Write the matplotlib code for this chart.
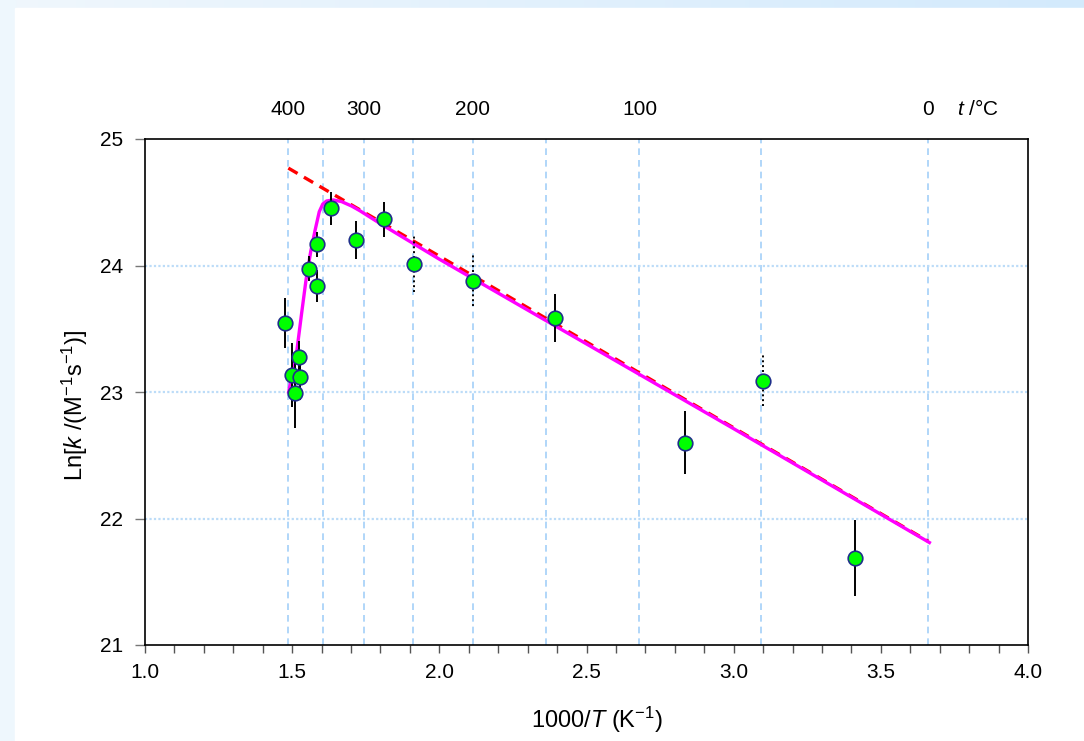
import numpy as np
import matplotlib.pyplot as plt
from matplotlib.colors import LinearSegmentedColormap
from matplotlib.patches import Rectangle
from matplotlib.ticker import MultipleLocator
from matplotlib.transforms import blended_transform_factory

plt.rcParams["font.family"] = ["Liberation Sans", "DejaVu Sans"]
plt.rcParams["mathtext.fontset"] = "custom"
plt.rcParams["mathtext.rm"] = "Liberation Sans"
plt.rcParams["mathtext.it"] = "Liberation Sans:italic"
plt.rcParams["font.size"] = 15

# measured rate constants, ln k vs 1000/T
inv_t = [1.476, 1.499, 1.524, 1.525, 1.510, 1.558, 1.584, 1.584, 1.633,
         1.718, 1.811, 1.915, 2.116, 2.393, 2.836, 3.099, 3.411]
ln_k = [23.545, 23.134, 23.275, 23.119, 22.995, 23.975, 24.168, 23.838, 24.452,
        24.20, 24.365, 24.01, 23.88, 23.583, 22.60, 23.09, 21.69]
ln_k_err = [0.20, 0.25, 0.13, 0.18, 0.28, 0.10, 0.10, 0.13, 0.13,
            0.15, 0.14, 0.22, 0.20, 0.19, 0.25, 0.20, 0.30]
dotted_err = [False, False, False, False, False, False, False, False, False,
              False, False, True, True, False, False, True, False]

# Arrhenius extrapolation (red dashed)
arr_x = [1.487, 3.661]
arr_y = [24.77, 21.82]

# full model curve (magenta)
fit_x = [1.488, 1.515, 1.532, 1.547, 1.563, 1.578, 1.592, 1.604, 1.617,
         1.640, 1.668, 1.702, 1.730, 1.80, 2.0, 2.5, 3.0, 3.665]
fit_y = [23.00, 23.31, 23.62, 23.885, 24.11, 24.28, 24.425, 24.486, 24.51,
         24.518, 24.505, 24.47, 24.433, 24.33, 24.05, 23.38, 22.71, 21.81]

# temperature grid in °C, only some of them labelled on top
grid_temps = [400, 350, 300, 250, 200, 150, 100, 50, 0]
top_temps = [400, 300, 200, 100, 0]

fig = plt.figure(figsize=(10.84, 7.41), dpi=100)
fig.patch.set_facecolor("#eef7fd")

# slide-like frame: gradient strip on top, pale strip on the left
bg = fig.add_axes([0, 0, 1, 1], zorder=-10)
bg.set_axis_off()
grad = np.linspace(0, 1, 256).reshape(1, -1)
bg.imshow(grad, extent=[0, 1, 0, 1], aspect="auto",
          cmap=LinearSegmentedColormap.from_list("bgc", ["#f0f7fd", "#d3eafc"]),
          transform=bg.transAxes)
bg.add_patch(Rectangle((0, 0), 15 / 1084, 1, transform=bg.transAxes, color="#eef7fd", zorder=1))
bg.add_patch(Rectangle((15 / 1084, 0), 1, 733 / 741, transform=bg.transAxes, color="white", zorder=2))
bg.set_xlim(0, 1)
bg.set_ylim(0, 1)

ax = fig.add_axes([145 / 1084, 1 - 645 / 741, 883 / 1084, 506 / 741])
ax.set_facecolor("white")
ax.set_xlim(1.0, 4.0)
ax.set_ylim(21, 25)

grid_x = [1000.0 / (t + 273.15) for t in grid_temps]
for gx in grid_x:
    ax.axvline(gx, color="#a3d0f8", lw=1.2, ls=(0, (4, 3)), zorder=1)
for gy in [22, 23, 24]:
    ax.axhline(gy, color="#bcdcf8", lw=1.6, ls=(0, (1, 1)), zorder=1)

ax.plot(arr_x, arr_y, color="#ff0000", lw=2.4, ls=(0, (3.2, 2.2)), zorder=3)
ax.plot(fit_x, fit_y, color="#ff00ff", lw=2.4, zorder=4)

for x, y, e, dot in zip(inv_t, ln_k, ln_k_err, dotted_err):
    eb = ax.errorbar(x, y, yerr=e, fmt="none", ecolor="black", elinewidth=1.4, capsize=0, zorder=5)
    if dot:
        eb[2][0].set_linestyle((0, (1, 1.5)))
ax.plot(inv_t, ln_k, "o", ms=10.5, mfc="#00ff00", mec="#1f2f8a", mew=1.2, ls="none", zorder=6)

ax.xaxis.set_major_locator(MultipleLocator(0.5))
ax.xaxis.set_minor_locator(MultipleLocator(0.1))
ax.yaxis.set_major_locator(MultipleLocator(1))
ax.xaxis.set_major_formatter(plt.FormatStrFormatter("%.1f"))
ax.tick_params(axis="x", which="both", direction="out", length=6, width=1, color="#555555", pad=7)
ax.tick_params(axis="y", which="major", direction="out", length=7, width=1, color="#777777", pad=9)
for s in ax.spines.values():
    s.set_linewidth(1.2)

ax.set_xlabel(r"1000/$\mathit{T}$ (K$^{-1}$)", fontsize=17)
ax.set_ylabel(r"Ln[$\mathit{k}$ /(M$^{-1}$s$^{-1}$)]", fontsize=17)
ax.xaxis.set_label_coords(0.512, -0.118)
ax.yaxis.set_label_coords(-0.062, 0.474)

# Celsius labels along the top edge
trans = blended_transform_factory(ax.transData, ax.transAxes)
for t in top_temps:
    ax.text(1000.0 / (t + 273.15), 1.04, str(t), transform=trans, ha="center", va="bottom", fontsize=15)
ax.text(3.83, 1.04, r"$\mathit{t}$ /°C", transform=trans, ha="center", va="bottom", fontsize=15)

fig.savefig("out.png", dpi=100)
